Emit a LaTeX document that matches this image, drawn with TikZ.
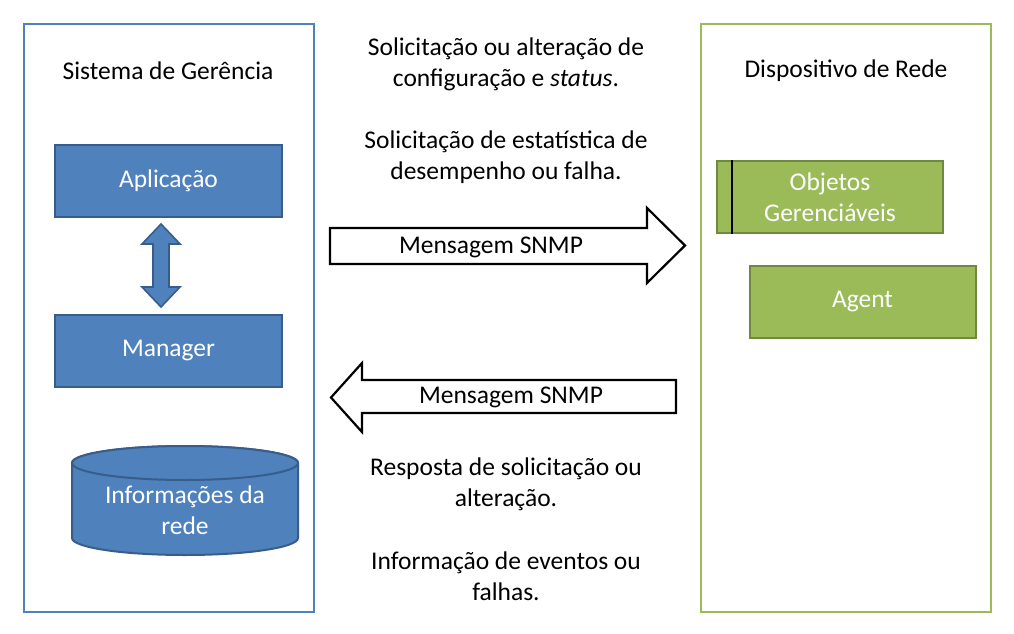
\documentclass[tikz,border=0pt]{standalone}
\usepackage{fontspec}
\setmainfont{Carlito}
\usetikzlibrary{shapes.geometric}
\definecolor{bfill}{HTML}{4F81BD}
\definecolor{bline}{HTML}{385D8A}
\definecolor{gfill}{HTML}{9BBB59}
\definecolor{gline}{HTML}{71893F}
\begin{document}
\begin{tikzpicture}[x=1pt,y=-1pt,
  every node/.style={font=\fontsize{25.5}{31}\selectfont, align=center, inner sep=0pt},
  frame/.style={line width=2pt},
  bbox/.style={draw=bline, fill=bfill, line width=2pt, text=white, minimum width=227pt, minimum height=72pt},
  gbox/.style={draw=gline, fill=gfill, line width=2pt, text=white, minimum width=226pt, minimum height=72pt},
  barrow/.style={draw=black, fill=white, line width=2.2pt, line join=miter},
  lbl/.style={text=black}]
\useasboundingbox (0,0) rectangle (1014,634);
\fill[white] (0,0) rectangle (1014,634);
% frames
\draw[frame, draw=bfill] (24,24) rectangle (314,612);
\draw[frame, draw=gfill] (701,24) rectangle (991,612);
\node[lbl] (sg) at (168,71) {Sistema de Gerência};
\node[lbl] (dr) at (846,71) {Dispositivo de Rede};
% left boxes
\node[bbox] (app) at (168.5,181) {Aplicação};
\node[bbox] (mgr) at (168.5,350.5) {Manager};
% double arrow
\draw[draw=bline, fill=bfill, line width=1.6pt, line join=miter]
  (161,224) -- (180,244) -- (169,244) -- (169,287) -- (180,287) -- (161,307)
  -- (142,287) -- (153,287) -- (153,244) -- (142,244) -- cycle;
% cylinder
\draw[draw=bline, fill=bfill, line width=2pt]
  (72,463) -- (72,538) arc[start angle=180, end angle=360, x radius=113pt, y radius=17pt]
  -- (298,463) arc[start angle=0, end angle=180, x radius=113pt, y radius=17pt];
\draw[draw=bline, fill=bfill, line width=2pt] (185,463) ellipse[x radius=113pt, y radius=17pt];
\node[text=white] (info) at (185,510) {Informações da\\rede};
% right boxes
\node[gbox] (obj) at (830,197) {Objetos\\Gerenciáveis};
\draw[line width=2.5pt] (obj.north west) ++(16,0) coordinate (lt) -- (lt |- obj.south);
\node[gbox] (agt) at (862.5,302) {Agent};
% block arrows
\draw[barrow] (330,228) -- (647,228) -- (647,208) -- (685,245.5) -- (647,283) -- (647,264) -- (330,264) -- cycle;
\node[lbl] (m1) at (491,247) {Mensagem SNMP};
\draw[barrow] (676,380) -- (362,380) -- (362,363) -- (331,397.5) -- (362,432) -- (362,413) -- (676,413) -- cycle;
\node[lbl] (m2) at (511,397) {Mensagem SNMP};
% texts
\node[lbl] (t1) at (506,64) {Solicitação ou alteração de\\configuração e \textit{status}.};
\node[lbl] (t2) at (506,157) {Solicitação de estatística de\\desempenho ou falha.};
\node[lbl] (t3) at (506,484) {Resposta de solicitação ou\\alteração.};
\node[lbl] (t4) at (506,576) {Informação de eventos ou\\falhas.};
\end{tikzpicture}
\end{document}
